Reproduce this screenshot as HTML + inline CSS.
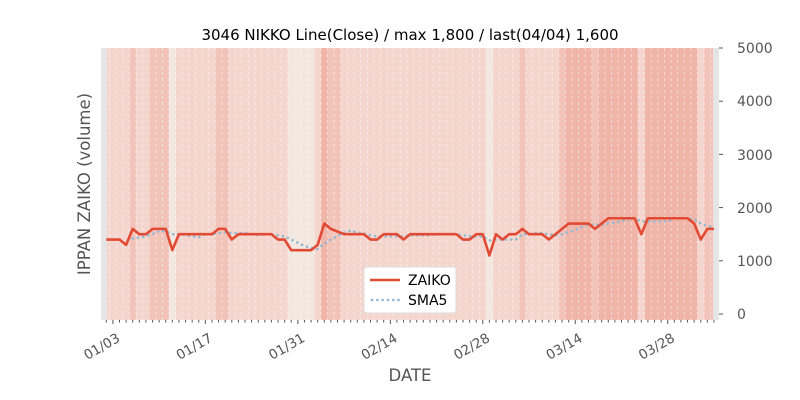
<!DOCTYPE html>
<html><head><meta charset="utf-8"><style>
body{margin:0;background:#fff;width:800px;height:400px;overflow:hidden}
svg{display:block;font-family:"DejaVu Sans","Liberation Sans",sans-serif}
</style></head><body>
<svg id="s" width="800" height="400" viewBox="0 0 800 400" xmlns="http://www.w3.org/2000/svg">
<defs><clipPath id="cp"><rect x="107" y="48" width="606" height="272"/></clipPath></defs>
<rect x="101" y="48" width="618" height="272" fill="#e5e5e5"/>
<g id="bands" clip-path="url(#cp)"></g>
<g id="grid"></g>
<polyline id="sma" fill="none" stroke="#92b8d3" stroke-width="2.6" stroke-dasharray="0.1,5.2" stroke-linecap="round"/>
<polyline id="z" fill="none" stroke="#e24a33" stroke-width="2.6" stroke-linejoin="round"/>
<g id="ticks" stroke="#555" stroke-width="1"></g>
<text x="410" y="40" font-size="15" text-anchor="middle" fill="#000">3046 NIKKO Line(Close) / max 1,800 / last(04/04) 1,600</text>
<g font-size="14" fill="#555">
<text x="737" y="53">5000</text><text x="737" y="106">4000</text><text x="737" y="160">3000</text>
<text x="737" y="213">2000</text><text x="737" y="266">1000</text><text x="737" y="319">0</text>
</g>
<text transform="translate(90,184) rotate(-90)" font-size="16.5" fill="#555" text-anchor="middle">IPPAN ZAIKO (volume)</text>
<text x="410" y="381" font-size="16.5" fill="#555" text-anchor="middle">DATE</text>
<g id="xl" font-size="13.5" fill="#555"></g>
<rect x="364" y="267" width="92" height="46" rx="3" fill="#fff" stroke="#ddd"/>
<line x1="370" y1="280" x2="400" y2="280" stroke="#e24a33" stroke-width="2.6"/>
<line x1="372" y1="300" x2="400" y2="300" stroke="#92b8d3" stroke-width="2.6" stroke-dasharray="0.1,5.2" stroke-linecap="round"/>
<text x="408" y="285" font-size="14" fill="#000">ZAIKO</text>
<text x="408" y="305" font-size="14" fill="#000">SMA5</text>
</svg>
<script>
var v=[1400,1400,1400,1300,1600,1500,1500,1600,1600,1600,1200,1500,1500,1500,1500,1500,1500,1600,1600,1400,1500,1500,1500,1500,1500,1500,1400,1400,1200,1200,1200,1200,1300,1700,1600,1550,1500,1500,1500,1500,1400,1400,1500,1500,1500,1400,1500,1500,1500,1500,1500,1500,1500,1500,1400,1400,1500,1500,1100,1500,1400,1500,1500,1600,1500,1500,1500,1400,1500,1600,1700,1700,1700,1700,1600,1700,1800,1800,1800,1800,1800,1500,1800,1800,1800,1800,1800,1800,1800,1700,1400,1600,1600];
var dx=6.605,x0=106.3;
function X(i){return x0+dx*i}function Y(a){return 314-a*0.0532}
var ns="http://www.w3.org/2000/svg";
function el(t,a,p){var e=document.createElementNS(ns,t);for(var k in a)e.setAttribute(k,a[k]);document.getElementById(p).appendChild(e);return e}
for(var i=0;i<v.length;i++){var a=v[i],c=a<=1200?"#f3e8df":a<=1500?"#f4d6cf":a<=1600?"#f2c3b9":"#f1b4a8";
el("rect",{x:X(i)-dx/2,y:48,width:dx+0.3,height:272,fill:c},"bands");
if(i>0)el("line",{x1:X(i)-dx/2,y1:48,x2:X(i)-dx/2,y2:320,stroke:"#fff","stroke-opacity":0.6,"stroke-dasharray":"3,3","stroke-width":0.8},"grid");}
var p=[],q=[];for(i=0;i<v.length;i++){p.push(X(i)+","+Y(v[i]));if(i>=4){var s=0;for(var j=i-4;j<=i;j++)s+=v[j];q.push(X(i)+","+Y(s/5));}}
document.getElementById("z").setAttribute("points",p.join(" "));
document.getElementById("sma").setAttribute("points",q.join(" "));
for(i=-1;i<=v.length;i++){var xx=X(i);var maj=((i-1)%14===0)&&i>=1;
if(xx>=100&&xx<=720)el("line",{x1:xx,y1:320,x2:xx,y2:maj?324:322.5},"ticks");}
[0,1,2,3,4,5].forEach(function(k){el("line",{x1:719,y1:Y(k*1000),x2:723,y2:Y(k*1000)},"ticks")});
var labs=["01/03","01/17","01/31","02/14","02/28","03/14","03/28"];
labs.forEach(function(l,k){var xx=X(1+14*k);var t=el("text",{transform:"translate("+(xx+3)+",332) rotate(-30)","text-anchor":"end",y:10},"xl");t.textContent=l;});
</script>
</body></html>
